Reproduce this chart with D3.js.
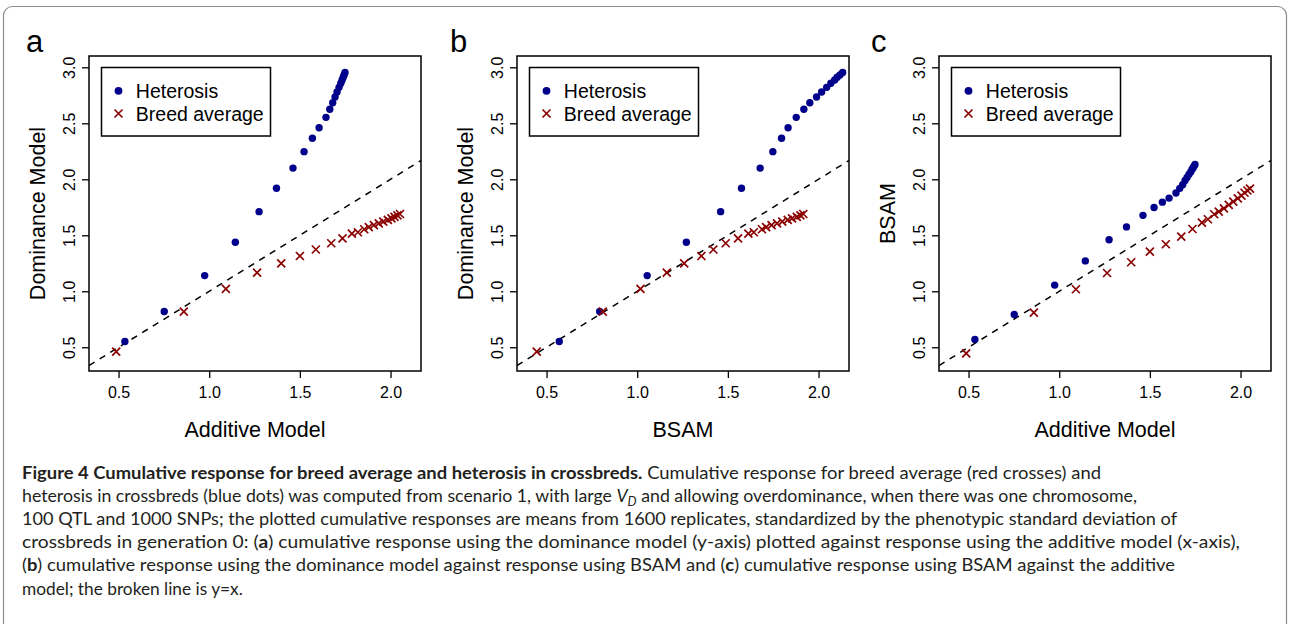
<!DOCTYPE html>
<html><head><meta charset="utf-8">
<script src="https://cdn.jsdelivr.net/npm/d3@7"></script>
<style>body{margin:0;background:#fff;} svg{display:block;}</style>
</head><body>
<svg id="chart" width="1290" height="624"></svg>
<script>
// ---------------- data ----------------
const xTicks = [0.5, 1.0, 1.5, 2.0];
const yTicks = [0.5, 1.0, 1.5, 2.0, 2.5, 3.0];
const seriesNames = ["Heterosis", "Breed average"];
const panelLetters = ["a", "b", "c"];
const xTitles = ["Additive Model", "BSAM", "Additive Model"];
const yTitles = ["Dominance Model", "Dominance Model", "BSAM"];

// cumulative response per generation, heterosis
const hetAdd  = [0.535, 0.752, 0.975, 1.144, 1.275, 1.371, 1.462, 1.523, 1.569, 1.606, 1.644, 1.665, 1.681, 1.694, 1.705, 1.716, 1.726, 1.733, 1.739, 1.744, 1.749];
const hetDom  = [0.551, 0.820, 1.140, 1.438, 1.711, 1.920, 2.100, 2.247, 2.366, 2.460, 2.553, 2.626, 2.683, 2.735, 2.780, 2.821, 2.857, 2.887, 2.911, 2.932, 2.953];
const hetBSAM = [0.570, 0.793, 1.055, 1.271, 1.460, 1.575, 1.678, 1.748, 1.796, 1.832, 1.877, 1.919, 1.952, 1.989, 2.017, 2.045, 2.068, 2.089, 2.103, 2.118, 2.133];
// cumulative response per generation, breed average
const breedAdd  = [0.487, 0.860, 1.092, 1.264, 1.397, 1.500, 1.588, 1.673, 1.735, 1.787, 1.820, 1.855, 1.880, 1.908, 1.935, 1.960, 1.985, 2.005, 2.022, 2.038, 2.052];
const breedDom  = [0.461, 0.818, 1.021, 1.166, 1.250, 1.315, 1.373, 1.429, 1.473, 1.515, 1.527, 1.554, 1.572, 1.590, 1.607, 1.622, 1.637, 1.651, 1.664, 1.677, 1.690];
const breedBSAM = [0.446, 0.810, 1.018, 1.163, 1.259, 1.354, 1.420, 1.488, 1.556, 1.613, 1.643, 1.688, 1.711, 1.741, 1.771, 1.800, 1.830, 1.854, 1.880, 1.900, 1.916];

const panelData = [
  {hx: hetAdd,  hy: hetDom,  bx: breedAdd,  by: breedDom},
  {hx: hetBSAM, hy: hetDom,  bx: breedBSAM, by: breedDom},
  {hx: hetAdd,  hy: hetBSAM, bx: breedAdd,  by: breedBSAM}
];

// ---------------- layout ----------------
const svg = d3.select("#chart");
const FONT = "'Liberation Sans', Arial, Helvetica, sans-serif";
const BLUE = "#00008B", RED = "#8B0000";
const xDomain = [0.337, 2.168], yDomain = [0.288, 3.101];
const panelLefts = [89, 517, 939];
const PW = 332, TOP = 56, BOTTOM = 371;

svg.append("rect").attr("width", 1290).attr("height", 624).attr("fill", "#fff");
svg.append("rect").attr("x", 3.5).attr("y", 6.5).attr("width", 1283).attr("height", 700)
  .attr("rx", 9).attr("fill", "none").attr("stroke", "#8c8c8c").attr("stroke-width", 1.2);

const defs = svg.append("defs");
const cr = "M-4,-4L4,4M-4,4L4,-4";

panelData.forEach((p, i) => {
  const L = panelLefts[i], R = L + PW;
  const x = d3.scaleLinear().domain(xDomain).range([L, R]);
  const y = d3.scaleLinear().domain(yDomain).range([BOTTOM, TOP]);
  const g = svg.append("g");

  defs.append("clipPath").attr("id", "clip" + i)
    .append("rect").attr("x", L).attr("y", TOP).attr("width", PW).attr("height", BOTTOM - TOP);

  // y = x reference line
  const lo = Math.max(xDomain[0], yDomain[0]), hi = Math.min(xDomain[1], yDomain[1]);
  g.append("line").attr("clip-path", "url(#clip" + i + ")")
    .attr("x1", x(lo)).attr("y1", y(lo)).attr("x2", x(hi)).attr("y2", y(hi))
    .attr("stroke", "#000").attr("stroke-width", 1.5).attr("stroke-dasharray", "6.5,6");

  // axes
  const xa = g.append("g").attr("transform", `translate(0,${BOTTOM})`)
    .call(d3.axisBottom(x).tickValues(xTicks).tickFormat(d3.format(".1f")).tickSize(7).tickPadding(9));
  const ya = g.append("g").attr("transform", `translate(${L},0)`)
    .call(d3.axisLeft(y).tickValues(yTicks).tickFormat(d3.format(".1f")).tickSize(7).tickPadding(9));
  [xa, ya].forEach(a => {
    a.select(".domain").remove();
    a.selectAll("line").attr("stroke", "#000").attr("stroke-width", 1.3);
    a.selectAll("text").attr("fill", "#000").style("font-family", FONT).style("font-size", "16px");
  });
  ya.selectAll("text").attr("x", 0).attr("y", -14).attr("dy", null)
    .attr("transform", "rotate(-90)").style("text-anchor", "middle");

  // box
  g.append("rect").attr("x", L).attr("y", TOP).attr("width", PW).attr("height", BOTTOM - TOP)
    .attr("fill", "none").attr("stroke", "#000").attr("stroke-width", 1.5);

  // heterosis points
  g.append("g").selectAll("circle").data(p.hx.map((v, k) => [v, p.hy[k]])).join("circle")
    .attr("cx", d => x(d[0])).attr("cy", d => y(d[1])).attr("r", 3.7).attr("fill", BLUE);
  // breed average crosses
  g.append("g").selectAll("path").data(p.bx.map((v, k) => [v, p.by[k]])).join("path")
    .attr("transform", d => `translate(${x(d[0])},${y(d[1])})`).attr("d", cr)
    .attr("stroke", RED).attr("stroke-width", 1.7).attr("fill", "none");

  // legend
  const lg = g.append("g").attr("transform", `translate(${L + 12.5},${TOP + 11.5})`);
  lg.append("rect").attr("width", 169).attr("height", 68.5).attr("fill", "#fff")
    .attr("stroke", "#000").attr("stroke-width", 1.5);
  lg.append("circle").attr("cx", 17).attr("cy", 23.3).attr("r", 3.9).attr("fill", BLUE);
  lg.append("path").attr("transform", "translate(17,46)").attr("d", cr)
    .attr("stroke", RED).attr("stroke-width", 1.7).attr("fill", "none");
  seriesNames.forEach((s, k) => {
    lg.append("text").attr("x", 34.3).attr("y", 23.3 + k * 22.7 + 7)
      .style("font-family", FONT).style("font-size", "19.5px").attr("fill", "#000").text(s);
  });

  // axis titles
  g.append("text").attr("x", (L + R) / 2).attr("y", 436.5).attr("text-anchor", "middle")
    .style("font-family", FONT).style("font-size", "21.5px").attr("fill", "#000").text(xTitles[i]);
  g.append("text").attr("transform", `translate(${L - 44},${(TOP + BOTTOM) / 2}) rotate(-90)`)
    .attr("text-anchor", "middle").style("font-family", FONT).style("font-size", "21.5px")
    .attr("fill", "#000").text(yTitles[i]);

  // panel letter
  svg.append("text").attr("x", [26, 450, 871][i]).attr("y", 52)
    .style("font-family", FONT).style("font-size", "31px").attr("fill", "#000").text(panelLetters[i]);
});

// ---------------- caption ----------------
const CAPFONT = "Lato, 'Open Sans', sans-serif";
const capLines = [
  [{t: "Figure 4 Cumulative response for breed average and heterosis in crossbreds.", b: 1}, {t: " Cumulative response for breed average (red crosses) and"}],
  [{t: "heterosis in crossbreds (blue dots) was computed from scenario 1, with large "}, {t: "V", it: 1}, {t: "D", it: 1, sub: 1}, {t: " and allowing overdominance, when there was one chromosome,"}],
  [{t: "100 QTL and 1000 SNPs; the plotted cumulative responses are means from 1600 replicates, standardized by the phenotypic standard deviation of"}],
  [{t: "crossbreds in generation 0: ("}, {t: "a", b: 1}, {t: ") cumulative response using the dominance model (y-axis) plotted against response using the additive model (x-axis),"}],
  [{t: "("}, {t: "b", b: 1}, {t: ") cumulative response using the dominance model against response using BSAM and ("}, {t: "c", b: 1}, {t: ") cumulative response using BSAM against the additive"}],
  [{t: "model; the broken line is y=x."}]
];
const capEnds = [1101, 1137, 1177, 1240, 1175, null];   // null: natural width
const capBase = [478.5, 501.7, 524.9, 548.1, 571.3, 594.5];
const capX = 22, capFs = 17.3;

const cap = svg.append("g").style("font-family", CAPFONT).attr("fill", "#231f20");
capLines.forEach((segs, li) => {
  const t = cap.append("text").attr("x", capX).attr("y", capBase[li]).style("font-size", capFs + "px");
  let down = false;
  segs.forEach(seg => {
    const ts = t.append("tspan").text(seg.t);
    if (seg.b) ts.style("font-weight", "bold");
    if (seg.it) ts.style("font-style", "italic");
    if (seg.sub) { ts.attr("dy", capFs * 0.25).style("font-size", (capFs * 0.72) + "px"); down = true; }
    else if (down) { ts.attr("dy", -capFs * 0.25); down = false; }
  });
  if (capEnds[li]) t.attr("textLength", capEnds[li] - capX).attr("lengthAdjust", "spacingAndGlyphs");
});
</script>
</body></html>
